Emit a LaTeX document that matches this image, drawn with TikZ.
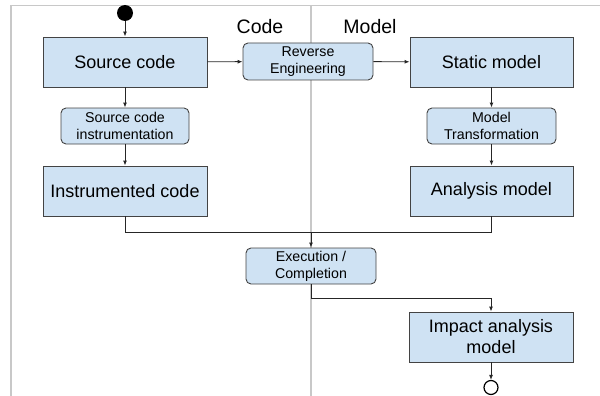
\documentclass[tikz,border=0pt]{standalone}
\usepackage{fontspec}
\setmainfont{Liberation Sans}
\usetikzlibrary{arrows.meta,calc}
\definecolor{boxfill}{HTML}{CFE2F3}
\definecolor{boxline}{HTML}{434343}
\definecolor{lane}{HTML}{C8C8C8}
\tikzset{
  bigbox/.style={draw=boxline, fill=boxfill, line width=0.9pt, inner sep=0pt,
    minimum width=164pt, minimum height=50pt, align=center,
    font=\fontsize{18}{21}\selectfont},
  actbox/.style={draw=boxline, fill=boxfill, line width=0.9pt, inner sep=0pt,
    rounded corners=5pt, minimum height=36pt, align=center,
    font=\fontsize{14.2}{17}\selectfont},
  lanelabel/.style={inner sep=0pt, font=\fontsize{19.5}{23}\selectfont},
  conn/.style={draw=black!85, line width=0.9pt},
  arr/.style={conn, -{Latex[length=5pt,width=4pt]}},
  lanesep/.style={draw=lane, line width=1.5pt}
}
\begin{document}
\begin{tikzpicture}[x=1pt,y=-1pt]
\useasboundingbox (0,0) rectangle (600,396);
% swimlane frame
\coordinate (fTL) at (11,5.5);
\coordinate (fTR) at (600,5.5);
\coordinate (fBL) at (11,396);
\coordinate (dT) at (311,5.5);
\coordinate (dB) at (311,396);
\draw[lanesep] (fBL) -- (fTL) -- (fTR);
\draw[lanesep] (dT) -- (dB);
\node[lanelabel] (lcode) at (260,27) {Code};
\node[lanelabel] (lmodel) at (370,27) {Model};
% nodes
\node[circle, fill=black, inner sep=0pt, minimum size=16pt] (start) at (125,13) {};
\node[bigbox] (src) at (125,62) {Source code};
\node[actbox, minimum width=128pt] (sci) at (125,126) {Source code\\instrumentation};
\node[bigbox] (ic) at (125,191) {Instrumented code};
\node[actbox, minimum width=130pt, minimum height=37pt] (re) at (308,61.5) {Reverse\\Engineering};
\node[bigbox, minimum width=163pt] (sm) at (491.5,62) {Static model};
\node[actbox, minimum width=129pt] (mt) at (491.5,126) {Model\\Transformation};
\node[bigbox, minimum width=163pt] (am) at (491.5,191) {Analysis model};
\node[actbox, minimum width=130pt] (ex) at (311,266) {Execution /\\Completion};
\node[bigbox] (ia) at (491,337) {Impact analysis\\model};
\node[circle, draw=black, line width=1.2pt, fill=white, inner sep=0pt, minimum size=14pt] (end) at (491,387.5) {};
% connectors
\coordinate (join) at (311,232);
\coordinate (fork) at (491,298);
\draw[arr] (start) -- (src);
\draw[arr] (src) -- (sci);
\draw[arr] (sci) -- (ic);
\draw[arr] (src) -- (re);
\draw[arr] (re) -- (sm);
\draw[arr] (sm) -- (mt);
\draw[arr] (mt) -- (am);
\draw[conn] (ic.south) |- (join);
\draw[conn] (am.south) |- (join);
\draw[arr] (join) -- (ex.north);
\draw[arr] (ex.south) |- (fork) -- (ia.north);
\draw[arr] (ia) -- (end);
\end{tikzpicture}
\end{document}
